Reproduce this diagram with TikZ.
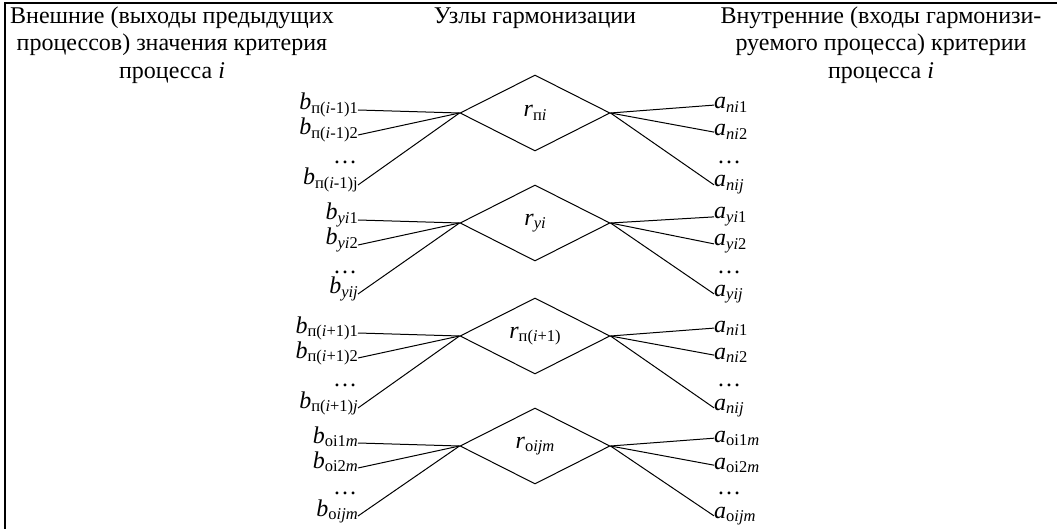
\documentclass[tikz,border=0pt]{standalone}
\usepackage{fontspec}
\setmainfont{Liberation Serif}
\usetikzlibrary{shapes.geometric}
\newcommand\Lv[2]{\textit{#1}\raisebox{-3.5pt}{\fontsize{16.5}{16.5}\selectfont #2}}
\begin{document}
\begin{tikzpicture}[x=1pt,y=-1pt,
  hdr/.style={font=\fontsize{24}{27.5}\selectfont, align=center, inner sep=0pt},
  lab/.style={font=\fontsize{24}{24}\selectfont, inner sep=0pt},
  dotsl/.style={font=\fontsize{24}{24}\selectfont, inner sep=0pt, text height=3pt, text depth=0pt, anchor=base},
  hub/.style={diamond, draw, line width=1pt, minimum width=150pt, minimum height=76pt, inner sep=0pt, font=\fontsize{24}{24}\selectfont},
  link/.style={line width=1pt},
  frame/.style={line width=2.2pt}]
\useasboundingbox (0,0) rectangle (1057,529);
\draw[frame] (5,529) -- (5,3) -- (1057,3);
\node[hdr] (hl) at (172,45) {Внешние (выходы предыдущих\\процессов) значения критерия\\процесса \textit{i}};
\node[hdr] (hc) at (535,18) {Узлы гармонизации};
\node[hdr] (hr) at (881,45) {Внутренние (входы гармонизи-\\руемого процесса) критерии\\процесса \textit{i}};
\foreach \g/\yc/\cl/\dl/\rr/\la/\lb/\lc/\ra/\rb/\rc in {
  1/113/72/51/{\Lv{r}{п\textit{i}}}/{\Lv{b}{п(\textit{i}-1)1}}/{\Lv{b}{п(\textit{i}-1)2}}/{\Lv{b}{п(\textit{i}-1)j}}/{\Lv{a}{\textit{ni}1}}/{\Lv{a}{\textit{ni}2}}/{\Lv{a}{\textit{nij}}},
  2/223/71/50/{\Lv{r}{\textit{yi}}}/{\Lv{b}{\textit{yi}1}}/{\Lv{b}{\textit{yi}2}}/{\Lv{b}{\textit{yij}}}/{\Lv{a}{\textit{yi}1}}/{\Lv{a}{\textit{yi}2}}/{\Lv{a}{\textit{yij}}},
  3/336/72/50/{\Lv{r}{п(\textit{i}+1)}}/{\Lv{b}{п(\textit{i}+1)1}}/{\Lv{b}{п(\textit{i}+1)2}}/{\Lv{b}{п(\textit{i}+1)\textit{j}}}/{\Lv{a}{\textit{ni}1}}/{\Lv{a}{\textit{ni}2}}/{\Lv{a}{\textit{nij}}},
  4/446/70/48/{\Lv{r}{о\textit{ijm}}}/{\Lv{b}{оi1\textit{m}}}/{\Lv{b}{оi2\textit{m}}}/{\Lv{b}{о\textit{ijm}}}/{\Lv{a}{оi1\textit{m}}}/{\Lv{a}{оi2\textit{m}}}/{\Lv{a}{о\textit{ijm}}}}{
  \node[hub] (d\g) at (535,\yc) {\rr};
  \node[lab,anchor=base east] (l\g a) at (358,\yc-3) {\la};
  \node[lab,anchor=base east] (l\g b) at (358,\yc+22) {\lb};
  \node[dotsl] (l\g d) at (345,\yc+\dl) {\dots};
  \node[lab,anchor=base east] (l\g c) at (358,\yc+\cl) {\lc};
  \node[lab,anchor=base west] (r\g a) at (714,\yc-4) {\ra};
  \node[lab,anchor=base west] (r\g b) at (714,\yc+23) {\rb};
  \node[dotsl] (r\g d) at (729,\yc+\dl) {\dots};
  \node[lab,anchor=base west] (r\g c) at (714,\yc+\cl+2) {\rc};
  \draw[link] (l\g a.base east) -- (d\g.west);
  \draw[link] (l\g b.base east) -- (d\g.west);
  \draw[link] (l\g c.base east) -- (d\g.west);
  \draw[link] (d\g.east) -- (r\g a.west);
  \draw[link] (d\g.east) -- (r\g b.west);
  \draw[link] (d\g.east) -- (r\g c.west);
}
\end{tikzpicture}
\end{document}
